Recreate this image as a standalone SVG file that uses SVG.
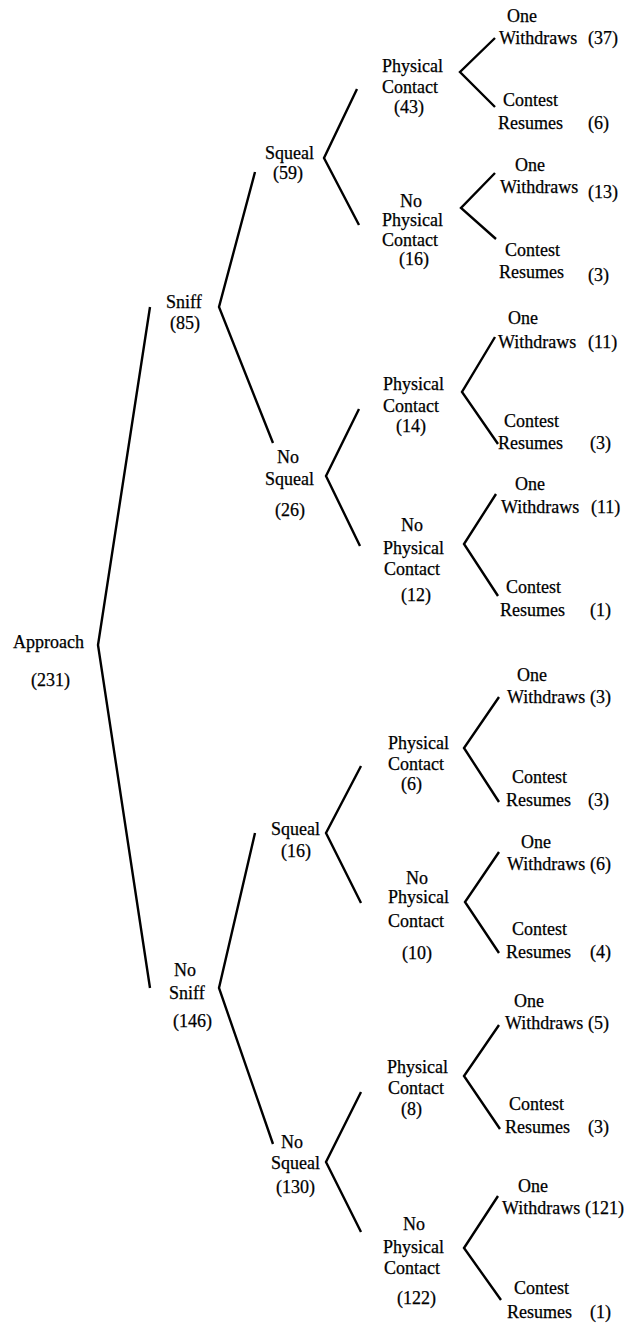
<svg xmlns="http://www.w3.org/2000/svg" width="630" height="1325" viewBox="0 0 630 1325">
<style>
text{font-family:"Liberation Serif","Times New Roman",serif;font-size:18px;fill:#000;stroke:#000;stroke-width:0.25}
.c polyline{fill:none;stroke:#000;stroke-width:2.4;stroke-linejoin:miter;stroke-linecap:butt}
</style>
<rect width="630" height="1325" fill="#fff"/>
<g class="c" id="connectors">
<polyline points="150,307 98,645 150,988"/>
<polyline points="255,172 219,307 273,443"/>
<polyline points="255,833 219,988 273,1144"/>
<polyline points="357,89 324,158 359,225"/>
<polyline points="359,409 326,476 360,546"/>
<polyline points="361,766 326,833 361,903"/>
<polyline points="361,1092 326,1162 361,1232"/>
<polyline points="495,38 460,72 495,107"/>
<polyline points="495,173 461,208 496,239"/>
<polyline points="495,337 462,392 498,444"/>
<polyline points="496,494 464,544 498,596"/>
<polyline points="499,697 464,748 499,802"/>
<polyline points="499,852 465,902 499,953"/>
<polyline points="499,1025 464,1076 500,1129"/>
<polyline points="498,1196 464,1248 501,1300"/>
</g>
<g id="approach"><text x="13" y="648">Approach</text><text x="31" y="686">(231)</text></g>
<g id="sniff"><text x="166" y="308">Sniff</text><text x="170" y="329">(85)</text></g>
<g id="nosniff"><text x="174" y="976">No</text><text x="169" y="999">Sniff</text><text x="173" y="1027">(146)</text></g>
<g id="squeal1"><text x="265" y="159">Squeal</text><text x="273" y="179">(59)</text></g>
<g id="nosqueal1"><text x="277" y="463">No</text><text x="265" y="485">Squeal</text><text x="275" y="516">(26)</text></g>
<g id="squeal2"><text x="271" y="835">Squeal</text><text x="281" y="857">(16)</text></g>
<g id="nosqueal2"><text x="281" y="1148">No</text><text x="271" y="1169">Squeal</text><text x="276" y="1193">(130)</text></g>
<g id="pc1"><text x="382" y="72">Physical</text><text x="382" y="93">Contact</text><text x="394" y="113">(43)</text></g>
<g id="npc1"><text x="400" y="207">No</text><text x="382" y="226">Physical</text><text x="382" y="246">Contact</text><text x="399" y="265">(16)</text></g>
<g id="pc2"><text x="383" y="390">Physical</text><text x="383" y="412">Contact</text><text x="396" y="432">(14)</text></g>
<g id="npc2"><text x="401" y="531">No</text><text x="383" y="554">Physical</text><text x="384" y="575">Contact</text><text x="401" y="601">(12)</text></g>
<g id="pc3"><text x="388" y="749">Physical</text><text x="388" y="770">Contact</text><text x="401" y="790">(6)</text></g>
<g id="npc3"><text x="406" y="884">No</text><text x="388" y="903">Physical</text><text x="388" y="927">Contact</text><text x="402" y="959">(10)</text></g>
<g id="pc4"><text x="387" y="1073">Physical</text><text x="388" y="1094">Contact</text><text x="401" y="1115">(8)</text></g>
<g id="npc4"><text x="403" y="1230">No</text><text x="383" y="1253">Physical</text><text x="384" y="1274">Contact</text><text x="397" y="1304">(122)</text></g>
<g id="w1"><text x="507" y="22">One</text><text x="499" y="44">Withdraws</text><text x="588" y="44">(37)</text></g>
<g id="r1"><text x="503" y="106">Contest</text><text x="498" y="129">Resumes</text><text x="588" y="129">(6)</text></g>
<g id="w2"><text x="515" y="171">One</text><text x="500" y="193">Withdraws</text><text x="588" y="198">(13)</text></g>
<g id="r2"><text x="505" y="256">Contest</text><text x="499" y="278">Resumes</text><text x="588" y="281">(3)</text></g>
<g id="w3"><text x="508" y="324">One</text><text x="498" y="348">Withdraws</text><text x="588" y="348">(11)</text></g>
<g id="r3"><text x="504" y="427">Contest</text><text x="498" y="449">Resumes</text><text x="590" y="449">(3)</text></g>
<g id="w4"><text x="515" y="490">One</text><text x="501" y="513">Withdraws</text><text x="591" y="513">(11)</text></g>
<g id="r4"><text x="506" y="593">Contest</text><text x="500" y="616">Resumes</text><text x="590" y="616">(1)</text></g>
<g id="w5"><text x="517" y="681">One</text><text x="507" y="703">Withdraws</text><text x="590" y="703">(3)</text></g>
<g id="r5"><text x="512" y="783">Contest</text><text x="506" y="806">Resumes</text><text x="588" y="806">(3)</text></g>
<g id="w6"><text x="521" y="848">One</text><text x="507" y="870">Withdraws</text><text x="590" y="870">(6)</text></g>
<g id="r6"><text x="512" y="935">Contest</text><text x="506" y="958">Resumes</text><text x="590" y="958">(4)</text></g>
<g id="w7"><text x="514" y="1007">One</text><text x="505" y="1029">Withdraws</text><text x="588" y="1029">(5)</text></g>
<g id="r7"><text x="509" y="1110">Contest</text><text x="505" y="1133">Resumes</text><text x="588" y="1133">(3)</text></g>
<g id="w8"><text x="518" y="1192">One</text><text x="502" y="1214">Withdraws</text><text x="585" y="1214">(121)</text></g>
<g id="r8"><text x="514" y="1294">Contest</text><text x="507" y="1318">Resumes</text><text x="590" y="1318">(1)</text></g>
</svg>
